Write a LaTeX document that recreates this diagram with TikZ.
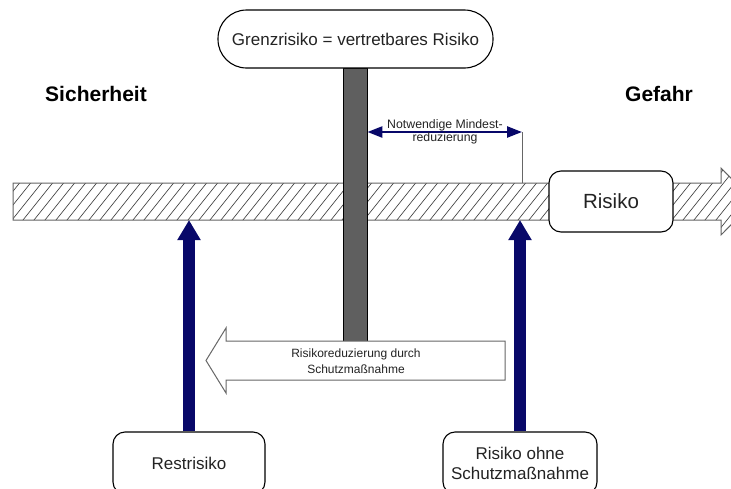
\documentclass[tikz,border=0pt]{standalone}
\usepackage{fontspec}
\setmainfont{Liberation Sans}
\usetikzlibrary{arrows.meta}
\definecolor{navy}{RGB}{8,8,105}
\definecolor{txt}{RGB}{35,35,35}
\definecolor{polegray}{RGB}{95,95,95}
\definecolor{barline}{RGB}{100,100,100}
\begin{document}
\begin{tikzpicture}[x=1pt,y=-1pt,
  box/.style={draw=black, line width=1.1pt, fill=white, rounded corners=12pt,
    text=txt, align=center, inner sep=0pt, font=\fontsize{17pt}{20pt}\selectfont},
  headline/.style={text=black, inner sep=0pt, font=\bfseries\fontsize{21pt}{24pt}\selectfont},
  small/.style={text=txt, align=center, inner sep=0pt, font=\fontsize{12.3pt}{13.6pt}\selectfont},
  hatch/.style={draw=black!75, line width=0.65pt},
  outline/.style={draw=barline, line width=1pt},
  uparrow/.style={draw=navy, line width=12pt, -{Triangle[length=20pt,width=22pt]}},
  span/.style={draw=navy, line width=2.4pt,
    {Triangle[length=15pt,width=11pt]}-{Triangle[length=15pt,width=11pt]}},
  thin/.style={draw=black!60, line width=0.8pt}
]
\useasboundingbox (0,0) rectangle (731,488);

% hatched scale bar running from safety to danger
\begin{scope}
  \clip (13,183) -- (721,183) -- (721,168) -- (754,201.5) -- (721,235) -- (721,220) -- (13,220) -- cycle;
  \foreach \x in {-70,-59,...,770}
    \draw[hatch] (\x,240) -- ++(64,-80);
\end{scope}
\draw[outline] (13,183) -- (721,183) -- (721,168) -- (754,201.5) -- (721,235) -- (721,220) -- (13,220) -- cycle;
\coordinate (barTop) at (13,183);
\coordinate (barBot) at (13,220);

% limit post and its label
\node[draw=black, line width=0.8pt, fill=polegray, minimum width=24pt, minimum height=297pt, inner sep=0pt] (pole) at (355,216.5) {};
\node[box, rounded corners=28.5pt, minimum width=275pt, minimum height=58pt] (grenz) at (355.5,39) {Grenzrisiko = vertretbares Risiko};

% risk box on the bar
\node[box, minimum width=124pt, minimum height=61pt, font=\fontsize{20.5pt}{24pt}\selectfont] (risk) at (611,201.5) {Risiko};

% side headings
\node[headline] (safe) at (96,93.5) {Sicherheit};
\node[headline] (danger) at (659,93.5) {Gefahr};

% required minimum reduction
\coordinate (mR) at (522,132);
\draw[thin] (mR) -- (mR |- barTop);
\draw[span] (pole.east |- mR) -- (mR);
\node[small] (mindest) at (445,132) {Notwendige Mindest-\\reduzierung};

% bottom boxes and their arrows up to the bar
\node[box, minimum width=152pt, minimum height=62pt] (rest) at (189,463) {Restrisiko};
\node[box, minimum width=154pt, minimum height=62pt] (ohne) at (520,463) {Risiko ohne\\Schutzmaßnahme};
\draw[uparrow] (rest.north) -- (rest.north |- barBot);
\draw[uparrow] (ohne.north) -- (ohne.north |- barBot);

% block arrow for the reduction by protective measures
\draw[draw=black!60, line width=1pt, fill=white]
  (505,341) -- (226,341) -- (226,328) -- (206,360.5) -- (226,393) -- (226,380) -- (505,380) -- cycle;
\node[small, font=\fontsize{12pt}{15.5pt}\selectfont] (reduk) at (356,361) {Risikoreduzierung durch\\Schutzmaßnahme};
\end{tikzpicture}
\end{document}
